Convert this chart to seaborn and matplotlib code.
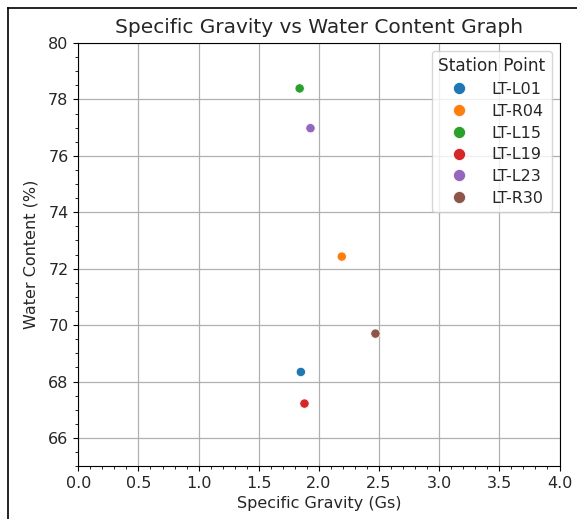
import matplotlib
matplotlib.use("Agg")
import matplotlib.pyplot as plt
from matplotlib.ticker import AutoMinorLocator
from matplotlib.lines import Line2D
import seaborn as sns
import pandas as pd

stations = ["LT-L01", "LT-R04", "LT-L15", "LT-L19", "LT-L23", "LT-R30"]
specific_gravity = [1.85, 2.19, 1.84, 1.88, 1.93, 2.47]
water_content = [68.34, 72.43, 78.39, 67.22, 76.98, 69.70]

df = pd.DataFrame({"Station Point": stations,
                   "Specific Gravity (Gs)": specific_gravity,
                   "Water Content (%)": water_content})

W, H = 577, 519
fig = plt.figure(figsize=(W / 100, H / 100), dpi=100)
left, right, top, bottom = 78.3, 559.5, 43.0, 466.2
ax = fig.add_axes([left / W, 1 - bottom / H, (right - left) / W, (bottom - top) / H])

sns.scatterplot(data=df, x="Specific Gravity (Gs)", y="Water Content (%)",
                hue="Station Point", palette="tab10", s=45, ax=ax)

txt = "#262626"
ax.set_xlim(0, 4)
ax.set_ylim(65, 80)
ax.set_xticks([0, 0.5, 1.0, 1.5, 2.0, 2.5, 3.0, 3.5, 4.0])
ax.set_yticks([66, 68, 70, 72, 74, 76, 78, 80])
ax.xaxis.set_minor_locator(AutoMinorLocator())
ax.yaxis.set_minor_locator(AutoMinorLocator())
ax.grid(True, which="major", color="#b0b0b0", linewidth=0.9)
ax.set_axisbelow(True)
ax.tick_params(labelsize=11.5, labelcolor=txt)
ax.set_title("Specific Gravity vs Water Content Graph", fontsize=14.5, color=txt, pad=7)
ax.set_xlabel("Specific Gravity (Gs)", fontsize=11.5, color=txt)
ax.set_ylabel("Water Content (%)", fontsize=11.5, color=txt, labelpad=7)
leg = ax.legend(title="Station Point", loc="upper right", fontsize=11.5,
                title_fontsize=12.2, markerscale=1.3, handlelength=2.5,
                handletextpad=0.8, labelspacing=0.42)
for t in leg.get_texts():
    t.set_color(txt)
leg.get_title().set_color(txt)

# screenshot frame
fig.add_artist(Line2D([7.5 / W, 7.5 / W], [0, 1 - 8 / H], transform=fig.transFigure,
                      color="black", linewidth=1.2))
fig.add_artist(Line2D([7.5 / W, 1], [1 - 8 / H, 1 - 8 / H], transform=fig.transFigure,
                      color="black", linewidth=1.2))

fig.savefig("out.png", dpi=100)
